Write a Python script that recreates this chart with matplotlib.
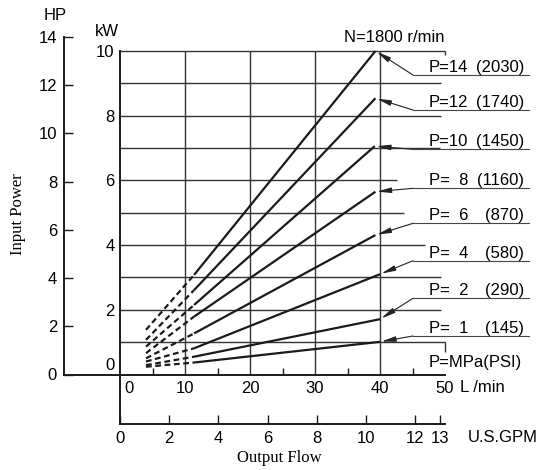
import numpy as np
import matplotlib
matplotlib.use('Agg')
import matplotlib.pyplot as plt
from matplotlib.lines import Line2D
from matplotlib.transforms import ScaledTranslation

plt.rcParams['font.family'] = ['Liberation Sans', 'DejaVu Sans']

# data
pressure = [14, 12, 10, 8, 6, 4, 2, 1]          # MPa
pressure_psi = [2030, 1740, 1450, 1160, 870, 580, 290, 145]
q_dash = 4.0                                    # L/min, start of dashed part
q_knee = 11.4                                   # L/min, start of solid part
q_end = [39.3, 39.3, 39.2, 39.3, 39.3, 40.0, 40.0, 40.0]
kw_dash = [1.38, 1.07, 0.86, 0.66, 0.50, 0.40, 0.29, 0.24]
kw_knee = [3.08, 2.61, 2.15, 1.79, 1.27, 0.81, 0.55, 0.37]
kw_end = [10.0, 8.54, 7.06, 5.65, 4.31, 3.10, 1.71, 1.01]

kw_grid = [1, 2, 3, 4, 5, 6, 7, 8, 9, 10]
kw_grid_right = [50, 49.4, 49.4, 46.9, 43.7, 42.6, 49.2, 49.4, 49.4, 50]
flow_grid = [10, 20, 30, 40]
kw_ticks = [0, 2, 4, 6, 8, 10]
hp_ticks = [0, 2, 4, 6, 8, 10, 12, 14]
flow_ticks = [0, 10, 20, 30, 40, 50]
gpm_ticks = [0, 2, 4, 6, 8, 10, 12, 13]

HP_PER_KW = 1.341
LPM_PER_GPM = 3.785

W, H = 547, 470
def fx(x):
    return x / W
def fy(y):
    return 1 - y / H

fig = plt.figure(figsize=(W / 100, H / 100), dpi=100)

ink = '#1a1a1a'
y0 = 374.5       # pixel row of 0 kW
kwpx = 32.35     # pixels per kW

# GPM axis (lowest)
axg = fig.add_axes([fx(120), fy(424), 325 / W, (424 - y0) / H])
axg.set_facecolor('none')
axg.set_xlim(0, 50 / LPM_PER_GPM)
axg.set_ylim(0, 1)
for s in ['top', 'right']:
    axg.spines[s].set_visible(False)
for s in ['left', 'bottom']:
    axg.spines[s].set_linewidth(1.4)
    axg.spines[s].set_color(ink)
axg.set_yticks([])
axg.set_xticks(gpm_ticks)
axg.set_xticklabels([str(t) for t in gpm_ticks])
axg.tick_params(axis='x', direction='in', length=6.5, width=1, pad=5, labelsize=12, color=ink)

# HP axis
hp_h = 14 / HP_PER_KW * kwpx
axh = fig.add_axes([fx(64), fy(y0), 56 / W, hp_h / H])
axh.set_facecolor('none')
axh.set_ylim(0, 14)
axh.set_xlim(0, 1)
for s in ['top', 'right']:
    axh.spines[s].set_visible(False)
for s in ['left', 'bottom']:
    axh.spines[s].set_linewidth(1.4)
    axh.spines[s].set_color(ink)
axh.set_xticks([])
axh.set_yticks(hp_ticks)
axh.tick_params(axis='y', direction='in', length=6.5, width=1, pad=5, labelsize=12, color=ink)

# main kW / L/min axes
ax = fig.add_axes([fx(120), fy(y0), 325 / W, 10 * kwpx / H])
ax.set_facecolor('none')
ax.set_xlim(0, 50)
ax.set_ylim(0, 10)
for s in ['top', 'right']:
    ax.spines[s].set_visible(False)
for s in ['left', 'bottom']:
    ax.spines[s].set_linewidth(1.4)
    ax.spines[s].set_color(ink)

ax.hlines(kw_grid, 0, kw_grid_right, colors='#333333', lw=1.0, clip_on=False)
ax.vlines(flow_grid, 0, 10, colors='#333333', lw=1.0)
ax.vlines([50, 50], [9.88, 0.7], [10, 1], colors='#333333', lw=1.0, clip_on=False)

for i in range(len(pressure)):
    ax.plot([q_dash, q_knee], [kw_dash[i], kw_knee[i]], color=ink, lw=1.6,
            dashes=(2.6, 1.6), clip_on=False)
    ax.plot([q_knee, q_end[i]], [kw_knee[i], kw_end[i]], color=ink, lw=1.6,
            solid_capstyle='butt', clip_on=False)

ax.set_xticks(flow_ticks)
ax.set_xticks([5, 15, 25, 35, 45], minor=True)
ax.tick_params(axis='x', which='major', length=0, pad=5, labelsize=12)
ax.tick_params(axis='x', which='minor', direction='in', length=5, width=1, color=ink)
ax.set_yticks(kw_ticks)
ax.tick_params(axis='y', length=0, pad=4, labelsize=12)

lbl = ax.get_yticklabels()[0]
lbl.set_transform(lbl.get_transform() + ScaledTranslation(0, 0.11, fig.dpi_scale_trans))
lbl = ax.get_xticklabels()[0]
lbl.set_transform(lbl.get_transform() + ScaledTranslation(0.09, 0, fig.dpi_scale_trans))

# axis captions
fig.text(fx(55), fy(16), 'HP', fontsize=12, ha='center', va='center')
fig.text(fx(107), fy(32), 'kW', fontsize=12, ha='center', va='center')
fig.text(fx(460), fy(387), 'L /min', fontsize=12, ha='left', va='center')
fig.text(fx(468), fy(437), 'U.S.GPM', fontsize=12, ha='left', va='center')
fig.text(fx(279), fy(458), 'Output Flow', fontsize=12, ha='center', va='center',
         family='Liberation Serif')
fig.text(fx(18), fy(214), 'Input Power', fontsize=12, ha='center', va='center',
         rotation=90, family='Liberation Serif')
fig.text(fx(444), fy(38), 'N=1800 r/min', fontsize=12, ha='right', va='center')
fig.text(fx(429), fy(363), 'P=MPa(PSI)', fontsize=12, ha='left', va='center')

# pressure labels with leaders
underline_y = [75, 110, 149.3, 188.3, 223.3, 260.7, 298.3, 336]
for i in range(len(pressure)):
    uy = underline_y[i]
    fig.add_artist(Line2D([fx(413), fx(529)], [fy(uy), fy(uy)], color='#444444', lw=0.8))
    left = 'P=%s' % (str(pressure[i]) if pressure[i] >= 10 else '  ' + str(pressure[i]))
    fig.text(fx(429), fy(uy - 3), left, fontsize=12, ha='left', va='baseline')
    fig.text(fx(524), fy(uy - 3), '(%d)' % pressure_psi[i], fontsize=12, ha='right', va='baseline')
    ax.annotate('', xy=(q_end[i], kw_end[i]), xycoords='data',
                xytext=(413, H - uy), textcoords='figure pixels',
                arrowprops=dict(arrowstyle='-|>,head_length=0.85,head_width=0.16',
                                lw=0.8, color='#222222', shrinkA=0, shrinkB=1,
                                mutation_scale=10))

fig.savefig('out.png', dpi=100)
